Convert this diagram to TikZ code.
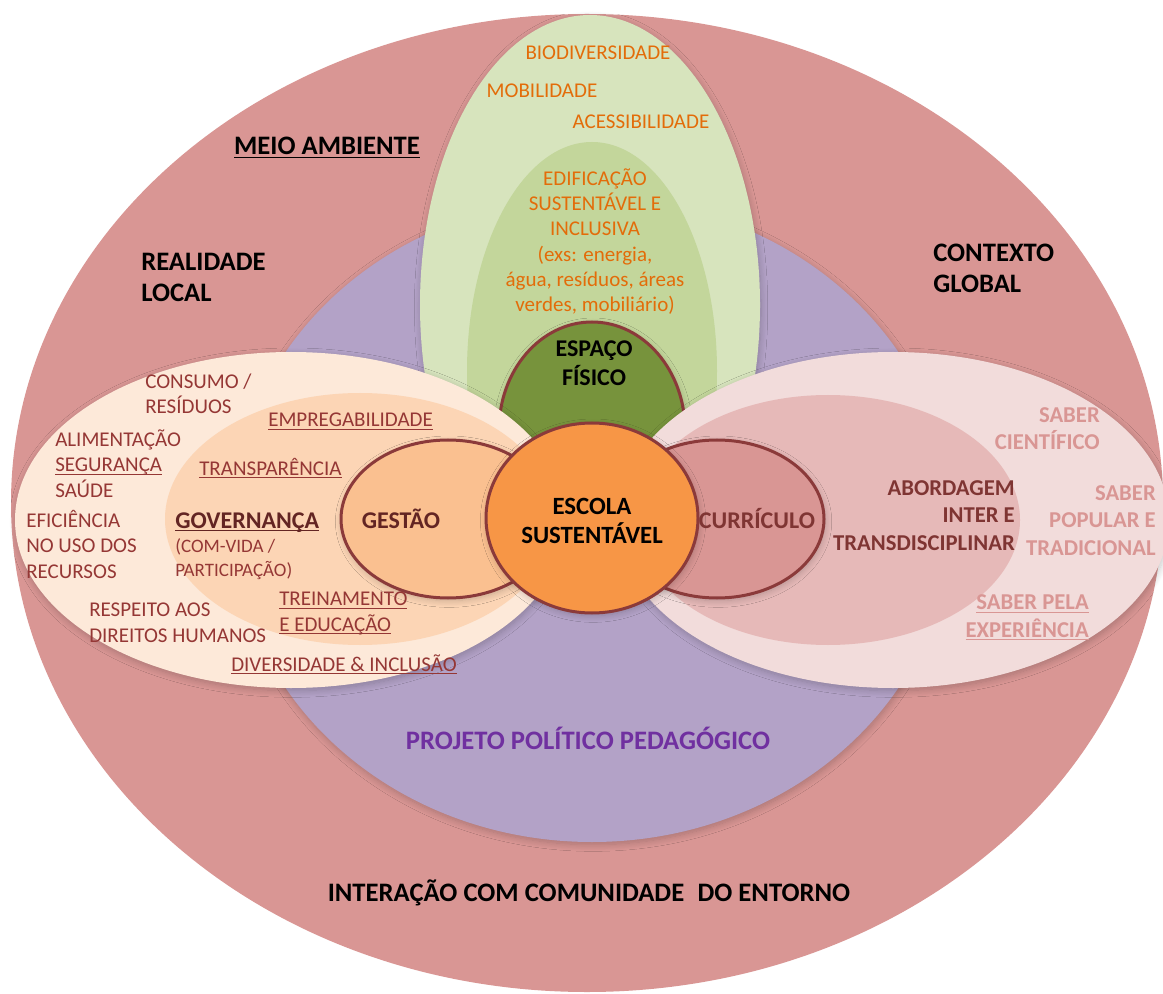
\documentclass[tikz,border=0pt]{standalone}
\usepackage{fontspec}
\setmainfont{Carlito}
\usepackage{tikz}
\usetikzlibrary{shadows.blur}

\definecolor{outerred}{HTML}{D99694}
\definecolor{ppbg}{HTML}{B3A2C7}
\definecolor{greenlt}{HTML}{D7E4BD}
\definecolor{greenmd}{HTML}{C3D69B}
\definecolor{greendk}{HTML}{77933C}
\definecolor{escorange}{HTML}{F79646}
\definecolor{peachA}{HTML}{FDE9D9}
\definecolor{peachB}{HTML}{FCD5B5}
\definecolor{peachC}{HTML}{FAC090}
\definecolor{pinkA}{HTML}{F2DCDB}
\definecolor{pinkB}{HTML}{E6B9B8}
\definecolor{pinkC}{HTML}{D99694}
\definecolor{rimred}{HTML}{8B3A3A}
\definecolor{txtred}{HTML}{953735}
\definecolor{txtdark}{HTML}{632523}
\definecolor{txtbrown}{HTML}{7F3533}
\definecolor{txtorange}{HTML}{E36C09}
\definecolor{txtpink}{HTML}{D99694}
\definecolor{txtpurple}{HTML}{7030A0}

% underline at a fixed depth, in the text colour
\newcommand{\undl}[1]{\leavevmode\setbox0\hbox{#1}\rlap{\rule[-2.6pt]{\wd0}{1pt}}\box0}

\tikzset{
  soft/.style={blur shadow={shadow xshift=0.8pt, shadow yshift=-2pt, shadow blur radius=5pt, shadow blur steps=10, shadow opacity=22}},
  ring/.style={draw=rimred, line width=2.25pt},
  bigtxt/.style={inner sep=0pt, text=black, font={\fontsize{20}{23.25}\selectfont\bfseries}},
  midtxt/.style={inner sep=0pt, font={\fontsize{18}{21.75}\selectfont\bfseries}},
  abtxt/.style={inner sep=0pt, font={\fontsize{17}{20.6}\selectfont\bfseries}},
  regtxt/.style={inner sep=0pt, text=txtred, font={\fontsize{15.75}{19}\selectfont}},
  orgtxt/.style={inner sep=0pt, text=txtorange, font={\fontsize{15.75}{19}\selectfont}},
  smalltxt/.style={inner sep=0pt, text=txtred, font={\fontsize{14.25}{17.6}\selectfont}},
}

\begin{document}
\begin{tikzpicture}[x=0.75pt,y=0.75pt,yscale=-1,xscale=1]
\useasboundingbox (0,0) rectangle (1163,994);

%Shape: Ellipse [outer]
\fill [outerred] (587,503) ellipse [x radius=576, y radius=489];
%Shape: Ellipse [projeto]
\fill [ppbg, soft] (592,520) ellipse [x radius=359, y radius=322];
%Shape: Ellipse [meio ambiente]
\fill [greenlt, soft] (590,305) ellipse [x radius=170, y radius=290];
\fill [greenmd] (592,371) ellipse [x radius=125, y radius=229];
%Shape: Ellipse [espaco fisico]
\filldraw [greendk, ring, soft] (592,430) ellipse [x radius=93, y radius=108];

%Shape: Ellipse [left side]
\fill [peachA, soft] (291,520) ellipse [x radius=276, y radius=168];
\fill [peachB] (360,519) ellipse [x radius=195, y radius=126];
\filldraw [peachC, ring, soft] (448,519) ellipse [x radius=107, y radius=79];
%Shape: Ellipse [right side]
\fill [pinkA, soft] (893,520) ellipse [x radius=276, y radius=168];
\fill [pinkB] (828,520) ellipse [x radius=192, y radius=125];
\filldraw [pinkC, ring, soft] (717,519) ellipse [x radius=107, y radius=79];
%Shape: Ellipse [escola]
\filldraw [escorange, ring, soft] (592,518) ellipse [x radius=106, y radius=95];

% Text Node
\draw (598,60) node (bio) [orgtxt, anchor=base] {BIODIVERSIDADE};
% Text Node
\draw (542,98) node (mobil) [orgtxt, anchor=base] {MOBILIDADE};
% Text Node
\draw (641,129) node (acess) [orgtxt, anchor=base] {ACESSIBILIDADE};
% Text Node
\draw (595,312) node (edif) [orgtxt, anchor=base, align=center] {EDIFICAÇÃO\\SUSTENTÁVEL E\\INCLUSIVA\\(exs: energia,\\água, resíduos, áreas\\verdes, mobiliário)};
% Text Node
\draw (594,386) node (espaco) [midtxt, anchor=base, align=center] {ESPAÇO\\FÍSICO};
% Text Node
\draw (592,543) node (escola) [midtxt, font={\fontsize{18.6}{21.75}\selectfont\bfseries}, anchor=base, align=center] {ESCOLA\\SUSTENTÁVEL};
% Text Node
\draw (401,528) node (gestao) [midtxt, text=txtdark, anchor=base] {GESTÃO};
% Text Node
\draw (757,528) node (curric) [midtxt, text=txtbrown, anchor=base] {CURRÍCULO};

% Text Node
\draw (327,155) node (meio) [bigtxt, anchor=base] {\undl{MEIO AMBIENTE}};
% Text Node
\draw (141,302) node (realid) [bigtxt, anchor=base west, align=left] {REALIDADE\\LOCAL};
% Text Node
\draw (933,293) node (contexto) [bigtxt, anchor=base west, align=left] {CONTEXTO\\GLOBAL};
% Text Node
\draw (588,749) node (ppp) [bigtxt, text=txtpurple, anchor=base] {PROJETO POLÍTICO PEDAGÓGICO};
% Text Node
\draw (589,901) node (entorno) [bigtxt, anchor=base] {INTERAÇÃO COM COMUNIDADE\enspace DO ENTORNO};

% Text Node
\draw (145,414) node (consumo) [regtxt, anchor=base west, align=left] {CONSUMO /\\RESÍDUOS};
% Text Node
\draw (268,427) node (empreg) [regtxt, anchor=base west] {\undl{EMPREGABILIDADE}};
% Text Node
\draw (55,497) node (aliment) [regtxt, anchor=base west, align=left] {ALIMENTAÇÃO\\\undl{SEGURANÇA}\\SAÚDE};
% Text Node
\draw (199,475) node (transp) [regtxt, anchor=base west] {\undl{TRANSPARÊNCIA}};
% Text Node
\draw (26,578) node (efic) [regtxt, anchor=base west, align=left] {EFICIÊNCIA\\NO USO DOS\\RECURSOS};
% Text Node
\draw (175,528) node (govern) [midtxt, text=txtdark, anchor=base west] {\undl{GOVERNANÇA}};
% Text Node
\draw (175,576) node (comvida) [smalltxt, anchor=base west, align=left] {(COM-VIDA /\\PARTICIPAÇÃO)};
% Text Node
\draw (89,642) node (respeito) [regtxt, anchor=base west, align=left] {RESPEITO AOS\\DIREITOS HUMANOS};
% Text Node
\draw (279,631) node (treina) [regtxt, anchor=base west, align=left] {\undl{TREINAMENTO}\\\undl{E EDUCAÇÃO}};
% Text Node
\draw (231,671) node (divers) [regtxt, anchor=base west] {\undl{DIVERSIDADE \& INCLUSÃO}};

% Text Node
\draw (1015,550) node (abord) [abtxt, text=txtbrown, anchor=base east, align=right] {ABORDAGEM\\INTER E\\TRANSDISCIPLINAR};
% Text Node
\draw (1100,450) node (scient) [abtxt, text=txtpink, anchor=base east, align=right] {SABER\\CIENTÍFICO};
% Text Node
\draw (1156,555) node (spop) [abtxt, text=txtpink, anchor=base east, align=right] {SABER\\POPULAR E\\TRADICIONAL};
% Text Node
\draw (1089,637) node (sexp) [abtxt, text=txtpink, anchor=base east, align=right] {\undl{SABER PELA}\\\undl{EXPERIÊNCIA}};

\end{tikzpicture}
\end{document}
